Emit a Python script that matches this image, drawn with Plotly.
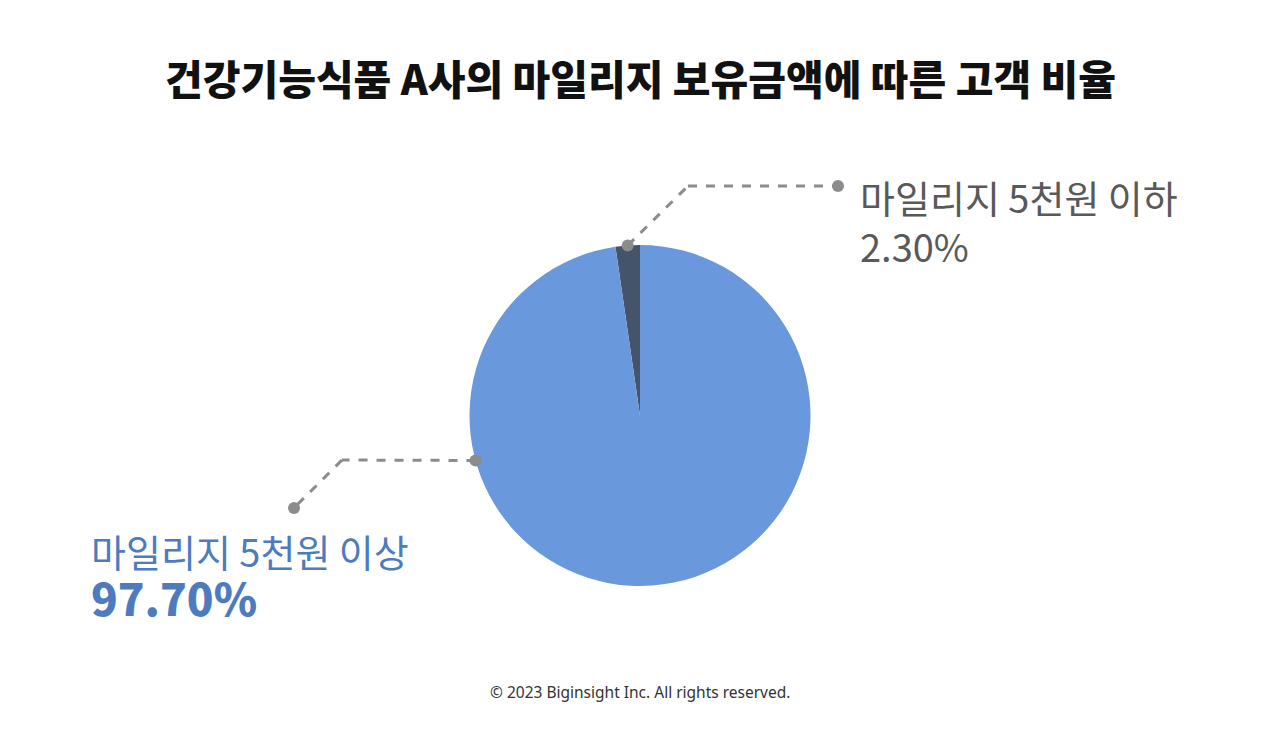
import math
import plotly.graph_objects as go

W, H = 1280, 737

labels = ['마일리지 5천원 이하', '마일리지 5천원 이상']
values = [2.3, 97.7]
pct_text = ['2.30%', '97.70%']
colors = ['#44546A', '#6A98DC']

title = '건강기능식품 A사의 마일리지 보유금액에 따른 고객 비율'
footer = '© 2023 Biginsight Inc. All rights reserved.'

# pie geometry in pixels
cx, cy, r = 640, 415.5, 170.5


def px(x):
    return x / W


def py(y):
    return 1 - y / H


def edge_point(frac_ccw):
    # angle counted counterclockwise from 12 o'clock, as a fraction of the circle
    a = frac_ccw * 2 * math.pi
    return cx - r * math.sin(a), cy - r * math.cos(a)


fig = go.Figure()
fig.add_trace(go.Pie(
    labels=labels, values=values, sort=False, direction='clockwise', rotation=-values[0] / sum(values) * 360,
    marker=dict(colors=colors, line=dict(width=0)),
    textinfo='none', hoverinfo='label+percent', showlegend=False,
    domain=dict(x=[px(cx - r), px(cx + r)], y=[py(cy + r), py(cy - r)]),
))

total = sum(values)
gray = '#8C8C8C'
shapes = []


def leader(points):
    for (x0, y0), (x1, y1) in zip(points[:-1], points[1:]):
        shapes.append(dict(type='line', xref='paper', yref='paper',
                           x0=px(x0), y0=py(y0), x1=px(x1), y1=py(y1),
                           line=dict(color=gray, width=3, dash='dash')))
    for (x, y) in (points[0], points[-1]):
        shapes.append(dict(type='circle', xref='paper', yref='paper',
                           x0=px(x - 6), x1=px(x + 6), y0=py(y + 6), y1=py(y - 6),
                           fillcolor=gray, line=dict(width=0)))


# small slice: anchor at its middle
ax, ay = edge_point(values[0] / 2 / total)
leader([(ax, ay), (688, 186), (838, 186)])
# large slice: anchor on the left edge
bx, by = edge_point(0.2925)
leader([(bx, by), (342, 460), (294, 508)])

KR = 'Noto Sans CJK KR'


def note(text, x, y, size, color, weight=400, xanchor='left', family=KR):
    return dict(text=text, x=px(x), y=py(y), xref='paper', yref='paper',
                xanchor=xanchor, yanchor='middle', align='left', showarrow=False,
                font=dict(size=size, color=color, family=family, weight=weight))


annotations = [
    note(title, 640, 77, 41, '#111111', weight=900, xanchor='center'),
    note(labels[0] + '<br>' + pct_text[0], 858, 221, 38, '#595959'),
    note(labels[1] + '<br><span style="font-size:44px;font-weight:900">' + pct_text[1] + '</span>',
         89, 576, 38, '#4E7BBE'),
    note(footer, 640, 692, 15.5, '#333333', xanchor='center', family='Noto Sans'),
]

fig.update_layout(
    width=W, height=H, margin=dict(l=0, r=0, t=0, b=0),
    paper_bgcolor='white', plot_bgcolor='white',
    shapes=shapes, annotations=annotations,
)

fig.write_html('out.html', config={'displayModeBar': False},
               post_script="document.body.style.margin='0';")
